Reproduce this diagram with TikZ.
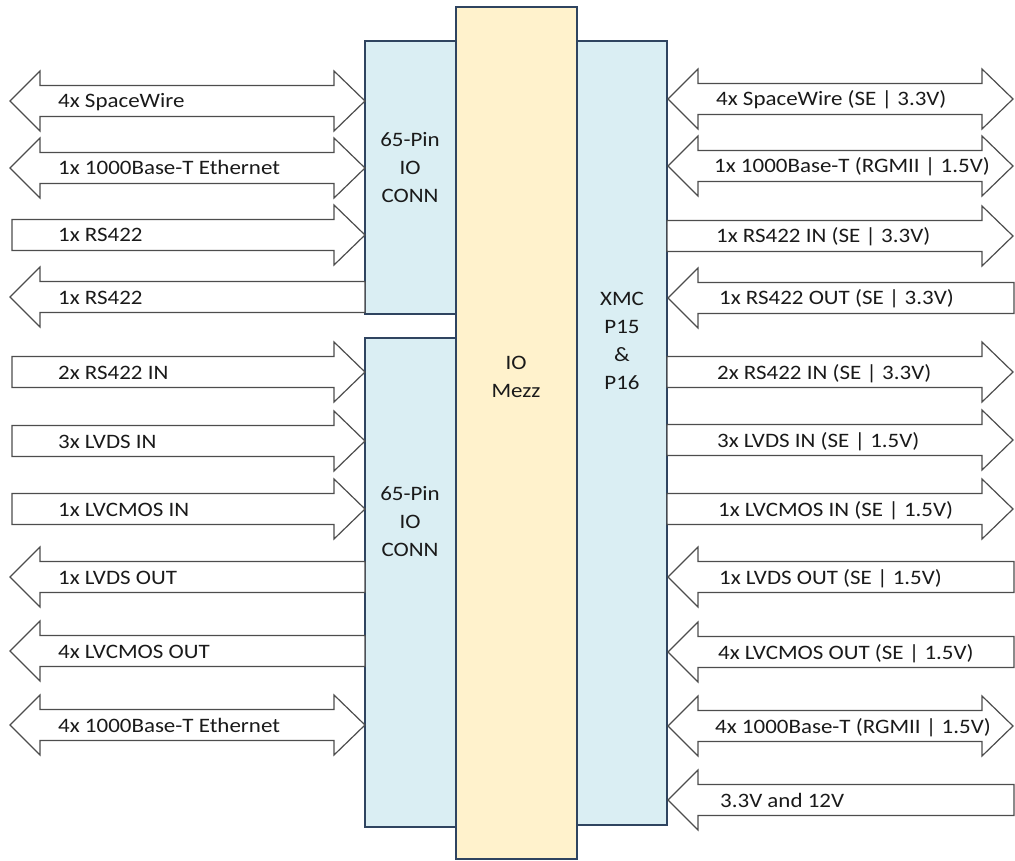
\documentclass[tikz,border=0pt]{standalone}
\usepackage{fontspec}
\setmainfont{Carlito}[FakeStretch=1.12]
\definecolor{boxblue}{HTML}{DAEEF3}
\definecolor{boxyel}{HTML}{FFF2CC}
\definecolor{boxline}{HTML}{2F4460}
\definecolor{arrline}{HTML}{4D4D4D}
\definecolor{txt}{HTML}{1A1A1A}
\tikzset{
  arr/.style={draw=arrline, line width=1.2pt, fill=white, line join=miter},
  lbl/.style={anchor=base west, inner sep=0pt, font=\fontsize{20.5}{24}\selectfont, text=txt},
  bluebox/.style={draw=boxline, fill=boxblue, line width=1.2pt, inner sep=0pt, rectangle},
  yelbox/.style={draw=boxline, fill=boxyel, line width=1.2pt, inner sep=0pt, rectangle},
  boxtxt/.style={align=center, inner sep=0pt, font=\fontsize{20.5}{28}\selectfont, text=txt}
}
% #1 x-left, #2 x-right, #3 y, #4 name, #5 text x, #6 text
\newcommand{\DblArr}[6]{%
  \draw[arr] (#1,#3) -- ++(30,-30) -- ++(0,14.5) -- (#2-31,#3-15.5) -- ++(0,-14.5) -- (#2,#3)
    -- ++(-31,30) -- ++(0,-14.5) -- (#1+30,#3+15.5) -- ++(0,14.5) -- cycle;
  \node[lbl] (#4) at (#5,#3+7) {#6};}
\newcommand{\RArr}[6]{%
  \draw[arr] (#1,#3-15.5) -- (#2-31,#3-15.5) -- ++(0,-14.5) -- (#2,#3)
    -- ++(-31,30) -- ++(0,-14.5) -- (#1,#3+15.5) -- cycle;
  \node[lbl] (#4) at (#5,#3+7) {#6};}
\newcommand{\LArr}[6]{%
  \draw[arr] (#1,#3) -- ++(30,-30) -- ++(0,14.5) -- (#2,#3-15.5) -- (#2,#3+15.5)
    -- (#1+30,#3+15.5) -- ++(0,14.5) -- cycle;
  \node[lbl] (#4) at (#5,#3+7) {#6};}
\begin{document}
\begin{tikzpicture}[x=1pt, y=-1pt]
\useasboundingbox (0,0) rectangle (1015,861);
% boxes
\node[bluebox, minimum width=91pt, minimum height=273pt] (conn1) at (410.5,177.5) {};
\node[bluebox, minimum width=91pt, minimum height=489pt] (conn2) at (410.5,582.5) {};
\node[bluebox, minimum width=90pt, minimum height=784pt] (xmc) at (622,433) {};
\node[yelbox, minimum width=121pt, minimum height=852pt] (mezz) at (516.5,433) {};
\node[boxtxt] (conn1t) at (410,168) {65-Pin\\IO\\CONN};
\node[boxtxt] (conn2t) at (410,522) {65-Pin\\IO\\CONN};
\node[boxtxt] (mezzt) at (516,377) {IO\\Mezz};
\node[boxtxt] (xmct) at (622,341) {XMC\\P15\\\&\\P16};
% left arrows
\DblArr{10}{365}{101}{l1}{58}{4x SpaceWire}
\DblArr{10}{365}{168}{l2}{58}{1x 1000Base-T Ethernet}
\RArr{12}{365}{235}{l3}{58}{1x RS422}
\LArr{10}{365}{297}{l4}{58}{1x RS422}
\RArr{12}{365}{372}{l5}{58}{2x RS422 IN}
\RArr{12}{365}{441}{l6}{58}{3x LVDS IN}
\RArr{12}{365}{509}{l7}{58}{1x LVCMOS IN}
\LArr{10}{365}{577}{l8}{58}{1x LVDS OUT}
\LArr{10}{365}{651}{l9}{58}{4x LVCMOS OUT}
\DblArr{10}{365}{725}{l10}{58}{4x 1000Base-T Ethernet}
% right arrows
\DblArr{668}{1013}{99}{r1}{716}{4x SpaceWire (SE | 3.3V)}
\DblArr{668}{1013}{166}{r2}{714}{1x 1000Base-T (RGMII | 1.5V)}
\RArr{667}{1013}{236}{r3}{716}{1x RS422 IN (SE | 3.3V)}
\LArr{668}{1014}{298}{r4}{719}{1x RS422 OUT (SE | 3.3V)}
\RArr{667}{1013}{372}{r5}{717}{2x RS422 IN (SE | 3.3V)}
\RArr{667}{1013}{440}{r6}{717}{3x LVDS IN (SE | 1.5V)}
\RArr{667}{1013}{509}{r7}{718}{1x LVCMOS IN (SE | 1.5V)}
\LArr{668}{1014}{577}{r8}{719}{1x LVDS OUT (SE | 1.5V)}
\LArr{668}{1014}{652}{r9}{718}{4x LVCMOS OUT (SE | 1.5V)}
\DblArr{668}{1013}{726}{r10}{715}{4x 1000Base-T (RGMII | 1.5V)}
\LArr{668}{1014}{800}{r11}{720}{3.3V and 12V}
\end{tikzpicture}
\end{document}
